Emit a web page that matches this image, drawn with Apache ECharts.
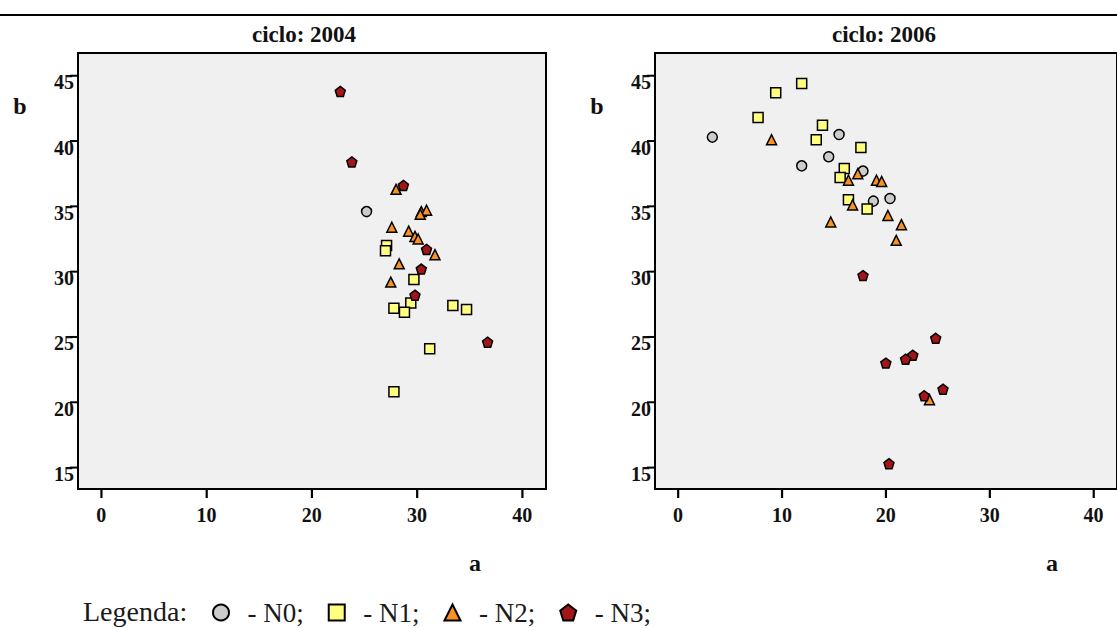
<!DOCTYPE html>
<html><head><meta charset="utf-8">
<script src="https://cdn.jsdelivr.net/npm/echarts@6/dist/echarts.min.js"></script>
<style>html,body{margin:0;padding:0;background:#fff}#c{width:1117px;height:628px}</style>
</head><body><div id="c"></div><script>
// ---- data ----
const panelTitles = ['ciclo: 2004', 'ciclo: 2006'];
const groupNames = ['N0', 'N1', 'N2', 'N3'];
const xTicks = [0, 10, 20, 30, 40];
const yTicks = [15, 20, 25, 30, 35, 40, 45];

const a2004N0 = [25.2];
const b2004N0 = [34.6];
const a2004N1 = [27.1, 27.0, 29.7, 27.8, 29.4, 28.8, 33.4, 34.7, 31.2, 27.8];
const b2004N1 = [32.0, 31.6, 29.4, 27.2, 27.6, 26.9, 27.4, 27.1, 24.1, 20.8];
const a2004N2 = [28.0, 30.4, 30.9, 30.3, 27.6, 29.2, 29.8, 30.1, 31.7, 28.3, 27.5];
const b2004N2 = [36.3, 34.6, 34.7, 34.4, 33.4, 33.1, 32.7, 32.5, 31.3, 30.6, 29.2];
const a2004N3 = [22.7, 23.8, 28.7, 30.9, 30.4, 29.8, 36.7];
const b2004N3 = [43.8, 38.4, 36.6, 31.7, 30.2, 28.2, 24.6];

const a2006N0 = [3.3, 15.5, 14.5, 11.9, 17.8, 18.8, 20.4];
const b2006N0 = [40.3, 40.5, 38.8, 38.1, 37.7, 35.4, 35.6];
const a2006N1 = [11.9, 9.4, 7.7, 13.9, 13.3, 17.6, 16.0, 15.6, 16.4, 18.2];
const b2006N1 = [44.4, 43.7, 41.8, 41.2, 40.1, 39.5, 37.9, 37.2, 35.5, 34.8];
const a2006N2 = [9.0, 16.4, 17.3, 19.1, 19.6, 16.8, 14.7, 20.2, 21.5, 21.0, 24.2];
const b2006N2 = [40.1, 37.0, 37.5, 37.0, 36.9, 35.1, 33.8, 34.3, 33.6, 32.4, 20.2];
const a2006N3 = [17.8, 24.8, 22.6, 21.9, 20.0, 25.5, 23.7, 20.3];
const b2006N3 = [29.7, 24.9, 23.6, 23.3, 23.0, 21.0, 20.5, 15.3];

// ---- styles ----
const FONT = "'Liberation Serif', 'DejaVu Serif', serif";
const PENT = 'path://M50,0 L100,38 L81,100 L19,100 L0,38 Z';
const X_MIN = -2.22, X_MAX = 42.25, Y_MIN = 13.36, Y_MAX = 46.74;
const styles = {
  N0: {symbol: 'circle', size: 10, color: '#cccccc'},
  N1: {symbol: 'rect', size: 10, color: '#ffff80'},
  N2: {symbol: 'triangle', size: 10, color: '#f7931e'},
  N3: {symbol: PENT, size: 10, color: '#a31518'}
};
const panels = [
  {N0: [a2004N0, b2004N0], N1: [a2004N1, b2004N1], N2: [a2004N2, b2004N2], N3: [a2004N3, b2004N3]},
  {N0: [a2006N0, b2006N0], N1: [a2006N1, b2006N1], N2: [a2006N2, b2006N2], N3: [a2006N3, b2006N3]}
];
const gridLefts = [78, 655];
const GRID_W = 468, GRID_TOP = 53, GRID_H = 436;

const series = [];
panels.forEach((p, pi) => {
  groupNames.forEach(g => {
    const [xs, ys] = p[g];
    const st = styles[g];
    series.push({
      type: 'scatter', name: g, xAxisIndex: pi, yAxisIndex: pi,
      data: xs.map((x, i) => [x, ys[i]]),
      symbol: st.symbol, symbolSize: st.size,
      itemStyle: {color: st.color, borderColor: '#000', borderWidth: 1.5, opacity: 1},
      emphasis: {disabled: true}, animation: false
    });
  });
});

const grids = gridLefts.map(l => ({
  left: l, top: GRID_TOP, width: GRID_W, height: GRID_H,
  show: true, backgroundColor: '#f0f0f0', borderColor: '#000', borderWidth: 2
}));
const xAxes = gridLefts.map((l, i) => ({
  type: 'value', gridIndex: i, min: X_MIN, max: X_MAX, position: 'bottom',
  axisLine: {show: true, onZero: false, lineStyle: {color: '#000', width: 2}}, splitLine: {show: false},
  axisTick: {show: false},
  axisLabel: {customValues: xTicks, margin: 16, fontFamily: FONT, fontWeight: 'bold', fontSize: 20, color: '#111'}
}));
const yAxes = gridLefts.map((l, i) => ({
  type: 'value', gridIndex: i, min: Y_MIN, max: Y_MAX, position: 'left',
  axisLine: {show: true, onZero: false, lineStyle: {color: '#000', width: 2}}, splitLine: {show: false},
  axisTick: {show: false},
  axisLabel: {customValues: yTicks, margin: 4, fontFamily: FONT, fontWeight: 'bold', fontSize: 20, color: '#111',
              verticalAlign: 'top', lineHeight: 13}
}));

const graphic = [
  {type: 'line', shape: {x1: 0, y1: 15, x2: 1117, y2: 15}, style: {stroke: '#000', lineWidth: 2}, silent: true},
  {type: 'text', x: 304, y: 34, style: {text: panelTitles[0], align: 'center', verticalAlign: 'middle', font: 'bold 23px ' + FONT, fill: '#111'}},
  {type: 'text', x: 884, y: 34, style: {text: panelTitles[1], align: 'center', verticalAlign: 'middle', font: 'bold 23px ' + FONT, fill: '#111'}},
  {type: 'text', x: 20, y: 106, style: {text: 'b', align: 'center', verticalAlign: 'middle', font: 'bold 24px ' + FONT, fill: '#111'}},
  {type: 'text', x: 597, y: 106, style: {text: 'b', align: 'center', verticalAlign: 'middle', font: 'bold 24px ' + FONT, fill: '#111'}},
  {type: 'text', x: 475, y: 563, style: {text: 'a', align: 'center', verticalAlign: 'middle', font: 'bold 24px ' + FONT, fill: '#111'}},
  {type: 'text', x: 1052, y: 563, style: {text: 'a', align: 'center', verticalAlign: 'middle', font: 'bold 24px ' + FONT, fill: '#111'}},
  {type: 'text', x: 83, y: 611, style: {text: 'Legenda:', align: 'left', verticalAlign: 'middle', font: '28px ' + FONT, fill: '#1a1a1a'}}
];

const chart = echarts.init(document.getElementById('c'), null, {renderer: 'svg'});
chart.setOption({
  animation: false,
  backgroundColor: '#fff',
  grid: grids, xAxis: xAxes, yAxis: yAxes, series,
  legend: {
    data: groupNames, left: 207, top: 594, itemWidth: 16, itemHeight: 16, itemGap: 24,
    selectedMode: false,
    formatter: n => '\u00a0 - ' + n + ';',
    textStyle: {fontFamily: FONT, fontSize: 27, color: '#1a1a1a'}
  },
  graphic
});

// outward tick marks, placed through the library's axis scales
const tickGraphics = [];
[0, 1].forEach(gi => {
  xTicks.forEach(v => {
    const c = chart.convertToPixel({xAxisIndex: gi, yAxisIndex: gi}, [v, Y_MIN]);
    if (!c) return;
    tickGraphics.push({type: 'rect', silent: true, z: 100,
      shape: {x: c[0] - 1, y: c[1], width: 2.2, height: 9}, style: {fill: '#000'}});
  });
  yTicks.forEach(v => {
    const c = chart.convertToPixel({xAxisIndex: gi, yAxisIndex: gi}, [X_MIN, v]);
    if (!c) return;
    tickGraphics.push({type: 'rect', silent: true, z: 100,
      shape: {x: c[0] - 8, y: c[1] - 1, width: 8, height: 2}, style: {fill: '#000'}});
  });
});
chart.setOption({graphic: graphic.concat(tickGraphics)});
</script></body></html>
